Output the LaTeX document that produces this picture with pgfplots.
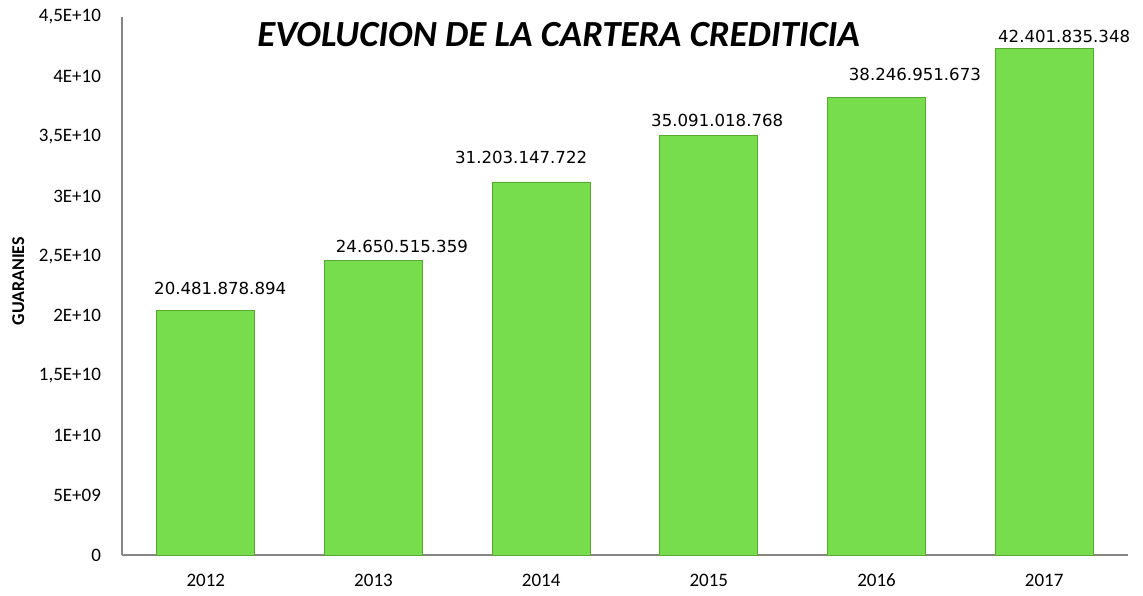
\documentclass[border=0pt]{standalone}
\usepackage{fontspec}
\setmainfont{Carlito}
\newfontfamily\labelfont{DejaVu Sans}
\usepackage{pgfplots}
\usepackage{pgfplotstable}
\pgfplotsset{compat=1.18}
\definecolor{barGreen}{RGB}{120,221,76}
\definecolor{barEdge}{RGB}{88,168,52}
\definecolor{axGray}{RGB}{134,134,134}

% anio, monto (guaranies), desplazamientos de etiqueta (pt), etiqueta
\pgfplotstableread{
x y dx dy lab
0 20481878894 7.2 7.5 20.481.878.894
1 24650515359 14.2 3.5 24.650.515.359
2 31203147722 -10 9 31.203.147.722
3 35091018768 4.2 4 35.091.018.768
4 38246951673 19.2 8.5 38.246.951.673
5 42401835348 10 2.5 42.401.835.348
}\cartera

\begin{document}
\begin{tikzpicture}
\path[use as bounding box] (-61pt,-20pt) rectangle (510.5pt,277.5pt);
\begin{axis}[
    scale only axis, width=503pt, height=269pt,
    ybar, bar width=49pt,
    xmin=-0.5, xmax=5.5, ymin=0, ymax=4.5e10,
    xtick={0,1,2,3,4,5}, xticklabels={2012,2013,2014,2015,2016,2017},
    ytick={0,5e9,1e10,1.5e10,2e10,2.5e10,3e10,3.5e10,4e10,4.5e10},
    yticklabels={0,5E+09,1E+10,{1,5E+10},2E+10,{2,5E+10},3E+10,{3,5E+10},4E+10,{4,5E+10}},
    scaled y ticks=false,
    axis x line*=bottom, axis y line*=left,
    axis line style={-, axGray, line width=0.8pt},
    major tick length=0pt,
    tick label style={font=\fontsize{9.5}{11}\selectfont},
    yticklabel style={xshift=-7pt},
    xticklabel style={yshift=-6pt},
    ylabel={\bfseries GUARANIES},
    ylabel style={font=\fontsize{9}{11}\selectfont, at={(axis description cs:-0.103,0.509)}, anchor=center},
    nodes near coords, point meta=explicit symbolic,
    visualization depends on={\thisrow{dx} \as \dx},
    visualization depends on={\thisrow{dy} \as \dy},
    nodes near coords style={font=\labelfont\fontsize{8.3}{10}\selectfont, xshift=\dx pt, yshift=\dy pt, inner sep=0pt, anchor=south},
    clip=false,
]
\addplot[fill=barGreen, draw=barEdge] table[x=x, y=y, meta=lab] {\cartera};
\node[font=\fontsize{18.4}{22}\selectfont\bfseries\itshape] at (rel axis cs:0.434,0.968) {EVOLUCION DE LA CARTERA CREDITICIA};
\end{axis}
\end{tikzpicture}
\end{document}
